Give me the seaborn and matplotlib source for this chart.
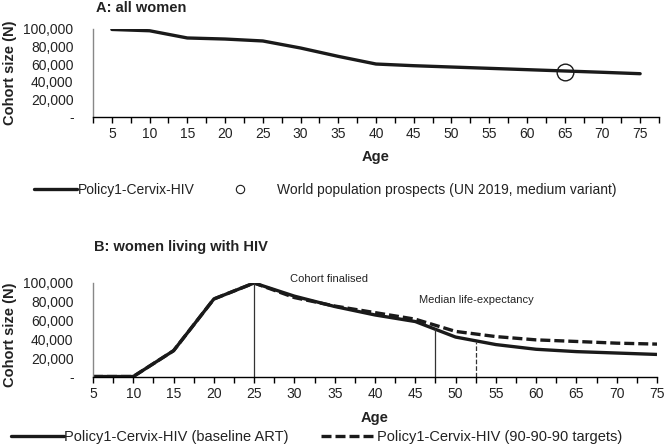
import matplotlib
matplotlib.use("Agg")
import matplotlib.pyplot as plt
import seaborn as sns
import pandas as pd
from matplotlib.lines import Line2D
from matplotlib.ticker import FuncFormatter, MultipleLocator

sns.set_theme(style="white")
plt.rcParams['font.family'] = ['Liberation Sans', 'DejaVu Sans']

# ---- data ----
ages = [5, 10, 15, 20, 25, 30, 35, 40, 45, 50, 55, 60, 65, 70, 75]
all_women = [99500, 98000, 89800, 88600, 86400, 78400, 68900, 60200,
             58300, 56800, 55300, 53800, 52300, 50800, 49200]
wpp_age = [65]
wpp_value = [51000]

hiv_baseline = [500, 500, 28000, 83000, 100000, 86000, 75000, 66000,
                59000, 42500, 34500, 29500, 27000, 25500, 24000]
hiv_9090 = [500, 500, 28000, 83000, 100000, 84500, 75500, 68500,
            61500, 48500, 43000, 39500, 37800, 36000, 35000]

marker_ages = [25, 47.5, 52.5]
marker_tops = [100000, 51000, 37000]
marker_styles = ['-', '-', '--']

label_a1 = "Policy1-Cervix-HIV"
label_a2 = "World population prospects (UN 2019, medium variant)"
label_b1 = "Policy1-Cervix-HIV (baseline ART)"
label_b2 = "Policy1-Cervix-HIV (90-90-90 targets)"

dfa = pd.DataFrame({"Age": ages, "N": all_women})
dfb = pd.DataFrame({"Age": ages + ages,
                    "N": hiv_baseline + hiv_9090,
                    "Scenario": [label_b1] * len(ages) + [label_b2] * len(ages)})

W, H = 665, 446
fig = plt.figure(figsize=(W / 100, H / 100), dpi=100)
INK = "#1a1a1a"
TXT = "#222222"

def fx(px):
    return px / W

def fy(py):
    return 1 - py / H

yfmt = FuncFormatter(lambda v, p: "-" if v == 0 else f"{int(v):,}")

def style_axis(ax):
    ax.set_ylim(0, 100000)
    ax.yaxis.set_major_locator(MultipleLocator(20000))
    ax.yaxis.set_major_formatter(yfmt)
    for s in ["top", "right"]:
        ax.spines[s].set_visible(False)
    ax.spines["left"].set_color("#888888")
    ax.spines["left"].set_linewidth(1.0)
    ax.spines["bottom"].set_color("black")
    ax.spines["bottom"].set_linewidth(1.0)
    ax.tick_params(axis="y", left=False, labelsize=10, pad=8, colors=TXT)
    ax.tick_params(axis="x", which="both", bottom=True, direction="out",
                   length=4, width=1, labelsize=10, colors=TXT)
    ax.tick_params(axis="x", which="both", color="black")
    ax.set_ylabel("Cohort size (N)", fontsize=10.5, fontweight="bold", color=TXT)
    ax.set_xlabel("Age", fontsize=10.5, fontweight="bold", color=TXT)
    ax.grid(False)

def legend_entry(handle, label, x_px, y_px, hl, pad, fs):
    leg = fig.legend([handle], [label], loc="center left",
                     bbox_to_anchor=(fx(x_px), fy(y_px)), borderaxespad=0,
                     borderpad=0, frameon=False, fontsize=fs,
                     handlelength=hl, handletextpad=pad)
    for t in leg.get_texts():
        t.set_color(TXT)
    return leg

# ---- Panel A ----
axA = fig.add_axes([fx(93), fy(117), fx(659 - 93), (117 - 29) / H])
sns.lineplot(data=dfa, x="Age", y="N", ax=axA, color=INK, linewidth=2.4, legend=False)
axA.plot(wpp_age, wpp_value, linestyle="none", marker="o", markersize=12,
         markerfacecolor="none", markeredgecolor=INK, markeredgewidth=1.0)
axA.set_xlim(2.5, 77.5)
style_axis(axA)
axA.set_xticks(ages)
axA.set_xticklabels([str(a) for a in ages])
axA.xaxis.set_minor_locator(MultipleLocator(2.5))
axA.yaxis.set_label_coords(-0.134, 0.5)
axA.xaxis.set_label_coords(0.5, -0.37)
fig.text(fx(96), fy(8), "A: all women", fontsize=10.5, fontweight="bold",
         color=TXT, va="center", ha="left")

legend_entry(Line2D([], [], color=INK, linewidth=2.4), label_a1, 34, 190, 3.1, 0.05, 10)
legend_entry(Line2D([], [], linestyle="none", marker="o", markersize=6,
                    markerfacecolor="none", markeredgecolor=INK, markeredgewidth=0.8),
             label_a2, 226, 190, 2.0, 1.7, 10)

# ---- Panel B ----
axB = fig.add_axes([fx(93), fy(377), fx(657 - 93), (377 - 283) / H])
sns.lineplot(data=dfb, x="Age", y="N", hue="Scenario", style="Scenario",
             palette=[INK, INK], dashes=[(1, 0), (3, 1.2)],
             ax=axB, linewidth=2.4, legend=False)
axB.set_xlim(5, 75)
style_axis(axB)
axB.set_xticks(ages)
axB.set_xticklabels([str(a) for a in ages])
axB.xaxis.set_minor_locator(MultipleLocator(2.5))
for a, top, ls in zip(marker_ages, marker_tops, marker_styles):
    axB.vlines(a, 0, top, colors="#333333", linewidth=0.9, linestyles=ls)
axB.yaxis.set_label_coords(-0.135, 0.45)
axB.xaxis.set_label_coords(0.5, -0.36)
axB.text(29.5, 104000, "Cohort finalised", fontsize=8, color=TXT, va="center", ha="left")
axB.text(45.5, 82000, "Median life-expectancy", fontsize=8, color=TXT, va="center", ha="left")
fig.text(fx(94), fy(247), "B: women living with HIV", fontsize=10.5, fontweight="bold",
         color=TXT, va="center", ha="left")

legend_entry(Line2D([], [], color=INK, linewidth=2.4), label_b1, 11, 437, 3.6, 0.05, 10.5)
legend_entry(Line2D([], [], color=INK, linewidth=2.4, dashes=(3, 1.2)), label_b2, 321, 437, 3.8, 0.05, 10.5)

fig.savefig("out.png", dpi=100)
